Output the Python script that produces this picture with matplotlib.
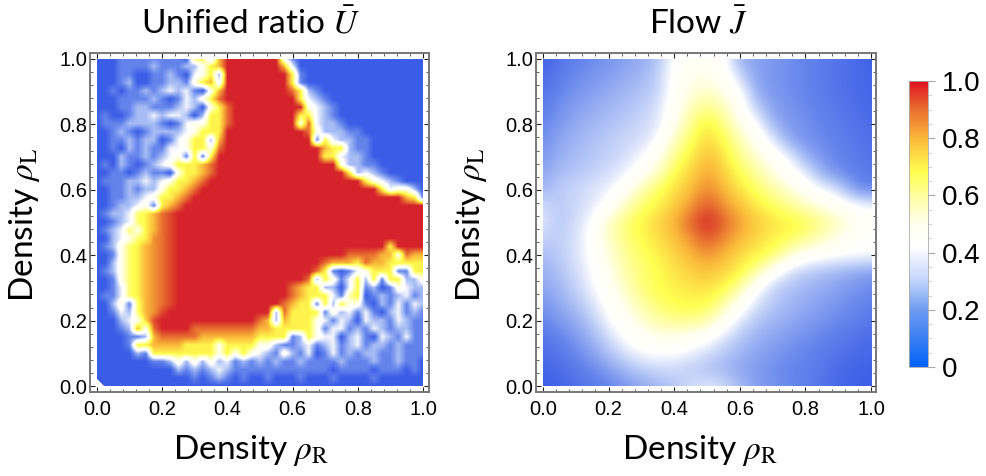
import numpy as np
import matplotlib
matplotlib.use('Agg')
import matplotlib.pyplot as plt
from matplotlib.colors import LinearSegmentedColormap
from matplotlib.patches import Rectangle
from matplotlib.cm import ScalarMappable
from matplotlib.ticker import MultipleLocator

plt.rcParams['font.family'] = 'Liberation Sans'
plt.rcParams['mathtext.fontset'] = 'stix'

W, H = 987, 476

# unified ratio, rows go from rho_L = 1.0 down to 0.0, step 0.025
# digits are tenths, a = 1.0, g/h/i/j are the half steps 0.65 0.75 0.85 0.95
# groups of 8 columns = 0.2 of rho_R
ratio_levels = {'g': 0.65, 'h': 0.75, 'i': 0.85, 'j': 0.95, 'a': 1.0}
ratio_rows = [
    "11122222 22217738 aaaaaaa4 21111111 11111111 1",
    "11122223 22233578 aaaaaaa8 41111111 11111111 1",
    "11122112 23214573 aaaaaaaa 72111111 11111111 1",
    "11123112 23325784 aaaaaaaa 72111111 11111111 1",
    "11212232 34342158 aaaaaaaa 97321111 11111111 1",
    "11122223 21243579 aaaaaaaa a7432111 11111111 1",
    "11122332 22343157 9aaaaaaa aa543211 11111111 1",
    "12112334 34431377 9aaaaaaa a7743211 11111111 1",
    "12223333 21245577 9aaaaaaa a5943321 11111111 1",
    "11232123 33345777 aaaaaaaa aa953332 21111111 1",
    "11223233 12457738 aaaaaaaa aaa27433 22111111 1",
    "11213232 24457759 aaaaaaaa aaaa8773 22111111 1",
    "11132232 3452727a aaaaaaaa aaaa7743 32111111 1",
    "12132123 4577789a aaaaaaaa aaaaaa53 32211111 1",
    "11221232 2157789a aaaaaaaa aaaaaaa7 34321111 1",
    "12223343 457789aa aaaaaaaa aaaaaaaa a7543211 1",
    "11223233 57789aaa aaaaaaaa aaaaaaaa aaa74553 1",
    "11223345 7789aaaa aaaaaaaa aaaaaaaa aaaaaa87 2",
    "11233452 789aaaaa aaaaaaaa aaaaaaaa aaaaaaaa a",
    "12334g78 9jaaaaaa aaaaaaaa aaaaaaaa aaaaaaaa a",
    "11234g78 9jaaaaaa aaaaaaaa aaaaaaaa aaaaaaaa a",
    "1234g578 9jaaaaaa aaaaaaaa aaaaaaaa aaaaaaaa a",
    "11345g7i 9jaaaaaa aaaaaaaa aaaaaaaa aaaaaaaa a",
    "1235g78i 9jaaaaaa aaaaaaaa aaaaaaaa aaaa7aaa a",
    "1125g78i 9jaaaaaa aaaaaaaa aaaaaaa9 99988598 8",
    "1135g78i 9jaaaaaa aaaaaaaa aaaa9888 79887777 7",
    "1235g78i 9jaaaaaa aaaaaaaa aaa97212 45777227 7",
    "1125g78i 9jaaaaaa aaaaaaaa aa937524 73727733 5",
    "1124g78i 9jaaaaaa aaaaaaaa 98773314 72312543 3",
    "1224g78i 9jaaaaaa aaaaaaaa 98777426 71232342 3",
    "11352g8i 9jaaaaaa aaaaaaa9 87727375 52132424 3",
    "11243g8i jaaaaaaa aaaaaa39 77772534 24213423 2",
    "111345hj aaaaaaaa aaaa9838 77754243 14332432 2",
    "11123859 aaaa9999 99998877 77752442 32432332 2",
    "11112238 99999888 88887777 23754413 42143242 2",
    "11112778 88877775 77775532 23423423 42332322 2",
    "11111327 77777775 75754325 32412423 23322322 2",
    "11111112 23535353 42323232 23222232 22322322 1",
    "11111111 11323234 32222222 22222122 22122212 1",
    "11111111 11112123 21211211 12111211 11211111 1",
    "11111111 11111111 11111111 11111111 11111111 1",
]

# flow in percent, rows rho_L = 1.0 down to 0.0, columns rho_R = 0.0 to 1.0, step 0.05
flow_pct = [
    [11, 16, 19, 21, 23, 25, 27, 31, 43, 47, 48, 44, 27, 26, 24, 22, 20, 18, 16, 14, 11],
    [14, 18, 21, 23, 25, 27, 29, 33, 45, 50, 50, 47, 34, 25, 23, 22, 20, 18, 16, 14, 12],
    [16, 20, 23, 25, 27, 29, 31, 34, 45, 52, 55, 50, 43, 27, 24, 22, 20, 18, 16, 14, 12],
    [18, 22, 25, 27, 29, 31, 33, 37, 46, 57, 63, 57, 46, 33, 25, 23, 21, 19, 17, 15, 13],
    [20, 24, 27, 29, 31, 33, 35, 38, 49, 62, 71, 63, 50, 43, 28, 24, 22, 20, 18, 16, 14],
    [22, 26, 29, 31, 33, 35, 36, 42, 56, 66, 75, 68, 58, 47, 39, 26, 23, 21, 19, 17, 15],
    [24, 28, 30, 32, 34, 36, 41, 48, 62, 71, 79, 72, 62, 54, 46, 40, 27, 23, 20, 18, 16],
    [26, 30, 32, 34, 36, 40, 46, 56, 68, 75, 83, 76, 67, 60, 52, 45, 39, 27, 22, 19, 17],
    [29, 33, 35, 37, 40, 46, 58, 66, 73, 79, 87, 80, 72, 66, 60, 53, 46, 41, 36, 23, 20],
    [36, 32, 35, 38, 44, 56, 65, 70, 76, 84, 94, 85, 78, 71, 66, 62, 56, 51, 46, 43, 41],
    [38, 32, 36, 42, 56, 64, 70, 75, 81, 92, 100, 92, 83, 77, 73, 70, 68, 62, 56, 50, 45],
    [34, 33, 37, 44, 55, 63, 68, 73, 78, 85, 94, 86, 80, 74, 70, 67, 62, 56, 50, 46, 44],
    [30, 33, 37, 43, 52, 61, 66, 70, 75, 80, 85, 80, 74, 70, 66, 54, 47, 44, 43, 42, 42],
    [28, 31, 36, 42, 50, 58, 64, 68, 72, 76, 78, 75, 70, 60, 46, 37, 33, 31, 29, 27, 25],
    [26, 29, 34, 40, 47, 56, 64, 68, 70, 72, 73, 69, 60, 43, 34, 31, 29, 27, 25, 23, 21],
    [23, 27, 31, 37, 44, 51, 59, 65, 68, 69, 68, 60, 46, 37, 32, 29, 27, 25, 23, 21, 19],
    [20, 24, 27, 33, 41, 47, 54, 59, 62, 62, 60, 47, 38, 32, 29, 27, 25, 23, 21, 19, 17],
    [17, 20, 24, 29, 36, 43, 47, 50, 50, 48, 44, 38, 32, 28, 26, 24, 22, 20, 18, 16, 14],
    [14, 17, 21, 25, 31, 37, 41, 42, 42, 39, 36, 32, 29, 26, 24, 22, 20, 18, 16, 14, 13],
    [12, 14, 18, 21, 25, 29, 33, 35, 35, 33, 31, 29, 26, 24, 22, 20, 19, 17, 14, 12, 11],
    [11, 12, 15, 17, 20, 23, 26, 29, 32, 36, 38, 36, 30, 25, 23, 21, 19, 16, 13, 11, 11],
]

major_ticks = [0.0, 0.2, 0.4, 0.6, 0.8, 1.0]
bar_ticks = [0, 0.2, 0.4, 0.6, 0.8, 1.0]
bar_labels = ['0', '0.2', '0.4', '0.6', '0.8', '1.0']
notch_x = [0.0, 0.022, 0.0]
notch_y = [0.0, 0.0, 0.022]

map_stops = [(0, '#3a5ce6'), (0.1, '#3a5ce6'), (0.2, '#6484ec'), (0.3, '#a8bdf5'),
             (0.42, '#ffffff'), (0.5, '#fffff0'), (0.6, '#ffffa0'), (0.68, '#ffff50'),
             (0.8, '#fbb83a'), (0.9, '#e87030'), (1.0, '#d6222a')]
bar_stops = [(0, '#0062f5'), (0.1, '#3a80f2'), (0.2, '#6f9cf2'), (0.3, '#c0d4fa'),
             (0.42, '#ffffff'), (0.5, '#fffff0'), (0.6, '#ffffa0'), (0.68, '#ffff50'),
             (0.8, '#fbb83a'), (0.9, '#e87030'), (1.0, '#e01020')]
map_cmap = LinearSegmentedColormap.from_list('map', map_stops, N=512)
bar_cmap = LinearSegmentedColormap.from_list('bar', bar_stops, N=512)


def px_axes(fig, x0, y0, x1, y1):
    return fig.add_axes([x0 / W, 1 - y1 / H, (x1 - x0) / W, (y1 - y0) / H])


def level(c):
    if c in ratio_levels:
        return ratio_levels[c]
    return int(c) / 10


def draw_map(ax, values, xlim, ylim, interp):
    n = values.shape[0]
    half = 0.5 / (n - 1)
    im = ax.imshow(values, cmap=map_cmap, vmin=0, vmax=1, aspect='auto',
                   interpolation=interp, interpolation_stage='data',
                   extent=(-half, 1 + half, -half, 1 + half))
    im.set_clip_path(Rectangle((0, 0), 1, 1, transform=ax.transData))
    ax.set_xlim(xlim)
    ax.set_ylim(ylim)
    ax.set_xticks(major_ticks)
    ax.set_yticks(major_ticks)
    ax.set_xticks(np.arange(0, 1.001, 0.04), minor=True)
    ax.set_yticks(np.arange(0, 1.001, 0.04), minor=True)
    ax.set_xticklabels(['%.1f' % t for t in major_ticks])
    ax.set_yticklabels(['%.1f' % t for t in major_ticks])
    ax.tick_params(which='major', direction='in', length=3.5, width=0.8, color='#222222',
                   top=True, right=True, labelsize=14.5)
    ax.tick_params(axis='x', which='major', pad=6)
    ax.tick_params(axis='y', which='major', pad=2)
    ax.tick_params(which='minor', direction='in', length=2, width=0.6, color='#444444',
                   top=True, right=True)
    for s in ax.spines.values():
        s.set_color('#777777')
        s.set_linewidth(1.4)


ratio = np.array([[level(c) for c in row.replace(' ', '')] for row in ratio_rows])
flow = np.array(flow_pct) / 100

fig = plt.figure(figsize=(W / 100, H / 100), dpi=100)

ax1 = px_axes(fig, 90, 53, 429, 392)
draw_map(ax1, ratio, (-0.0215, 1.0184), (-0.018, 1.018), 'bilinear')
ax1.fill(notch_x, notch_y, color='white', lw=0)

ax2 = px_axes(fig, 536, 53, 876, 392)
draw_map(ax2, flow, (-0.0213, 1.0152), (-0.018, 1.018), 'bicubic')

cax = px_axes(fig, 909, 81, 928, 367)
sm = ScalarMappable(cmap=bar_cmap, norm=plt.Normalize(0, 1))
cb = fig.colorbar(sm, cax=cax)
cb.set_ticks(bar_ticks)
cb.set_ticklabels(bar_labels)
cb.ax.yaxis.set_minor_locator(MultipleLocator(0.05))
cb.ax.tick_params(which='major', length=5, width=0.8, color='#aaaaaa', labelsize=20, pad=5)
cb.ax.tick_params(which='minor', length=3, width=0.6, color='#cccccc')
cb.outline.set_edgecolor('#aaaaaa')
cb.outline.set_linewidth(0.6)

label_font = dict(family='Lato', color='black', ha='center', va='center')
fig.text(251 / W, 1 - 23 / H, r'Unified ratio $\bar{U}$', fontsize=24, **label_font)
fig.text(698 / W, 1 - 23 / H, r'Flow $\bar{J}$', fontsize=24, **label_font)
fig.text(251 / W, 1 - 450 / H, r'Density $\rho_{\mathrm{R}}$', fontsize=24, **label_font)
fig.text(700 / W, 1 - 450 / H, r'Density $\rho_{\mathrm{R}}$', fontsize=24, **label_font)
fig.text(25 / W, 1 - 225 / H, r'Density $\rho_{\mathrm{L}}$', fontsize=24, rotation=90, **label_font)
fig.text(472 / W, 1 - 225 / H, r'Density $\rho_{\mathrm{L}}$', fontsize=24, rotation=90, **label_font)

fig.savefig('out.png', dpi=100)
